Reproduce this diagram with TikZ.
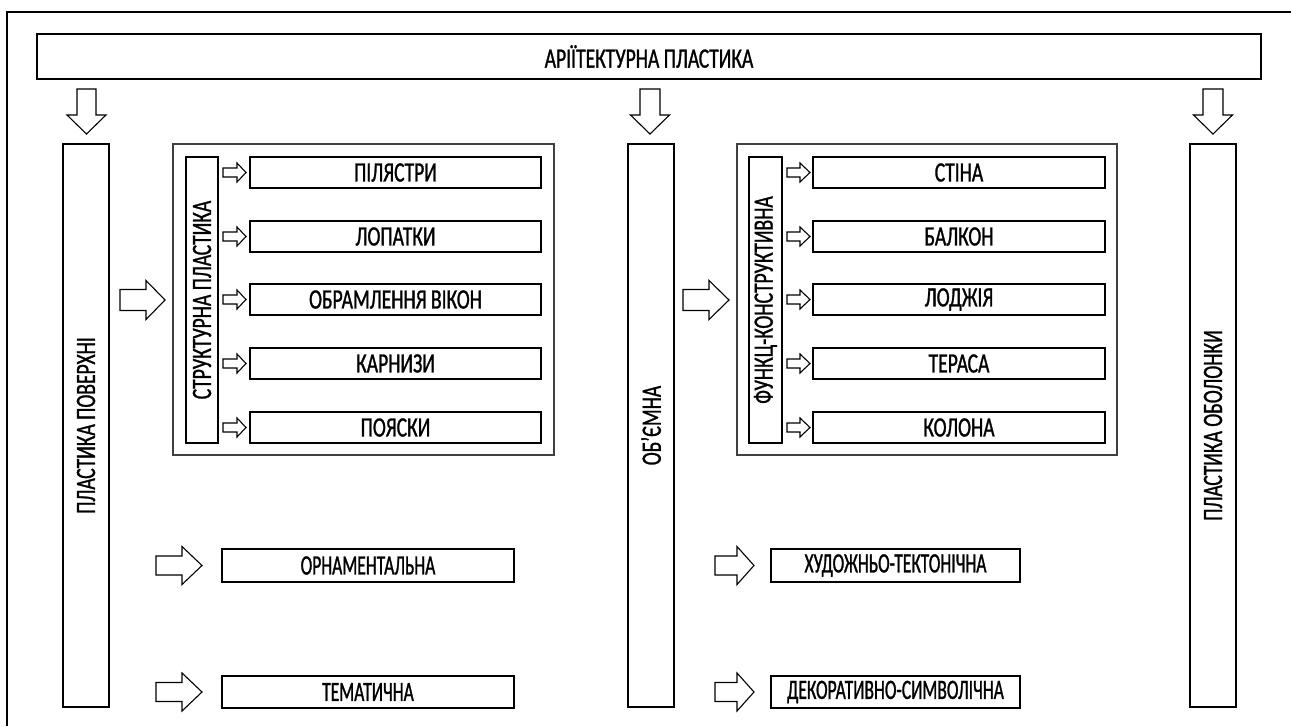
\documentclass[tikz,border=0pt]{standalone}
\usepackage{fontspec}
\setmainfont{Carlito}[FakeStretch=0.70,FakeBold=1]
\newfontfamily\narrowfont{Carlito}[FakeStretch=0.625,FakeBold=1]
\begin{document}
\begin{tikzpicture}[x=1pt,y=-1pt,
  every node/.style={inner sep=0pt, outer sep=0pt, font=\fontsize{28}{32}\selectfont},
  topbox/.style={draw, line width=2.8pt, fill=white},
  tallbox/.style={draw, line width=2.8pt, fill=white},
  itembox/.style={draw, line width=2pt, fill=white},
  lowbox/.style={itembox, font=\narrowfont\fontsize{28}{32}\selectfont},
  groupbox/.style={draw=black!75, line width=1.3pt},
  blockarr/.style={draw, line width=1.1pt, fill=white, line join=miter}]
\useasboundingbox (0,0) rectangle (1291,726);
\newcommand\rblock[6]{\draw[blockarr] (#1,{#4-#5}) -- (#2,{#4-#5}) -- (#2,{#4-#6}) -- (#3,#4) -- (#2,{#4+#6}) -- (#2,{#4+#5}) -- (#1,{#4+#5}) -- cycle;}
\newcommand\dblock[6]{\draw[blockarr] ({#4-#5},#1) -- ({#4-#5},#2) -- ({#4-#6},#2) -- (#4,#3) -- ({#4+#6},#2) -- ({#4+#5},#2) -- ({#4+#5},#1) -- cycle;}
% outer frame (cropped)
\draw[line width=2pt] (1291,12) -- (7,12) -- (7,726);
% title
\node[topbox, minimum width=1224pt, minimum height=45pt] (top) at (649,56.5) {АРІЇТЕКТУРНА ПЛАСТИКА};
% down arrows
\dblock{89}{115}{134}{86.5}{9.5}{19.5}
\dblock{89}{115}{134}{650}{10}{19.5}
\dblock{89}{115}{134}{1213}{10}{19.5}
% tall boxes
\node[tallbox, minimum width=46pt, minimum height=563pt] (pov) at (86,425.5) {};
\node[rotate=90] (povt) at (pov.center) {ПЛАСТИКА ПОВЕРХНІ};
\node[tallbox, minimum width=46pt, minimum height=563pt] (obj) at (651,425.5) {};
\node[rotate=90] (objt) at (obj.center) {ОБ'ЄМНА};
\node[tallbox, minimum width=46pt, minimum height=563pt] (obo) at (1213,425.5) {};
\node[rotate=90] (obot) at (obo.center) {ПЛАСТИКА ОБОЛОНКИ};
% left group
\node[groupbox, minimum width=381pt, minimum height=311pt] (lg) at (363.5,299.5) {};
\node[draw, line width=1.8pt, minimum width=32pt, minimum height=286pt] (lv) at (202,300) {};
\node[rotate=90] (lvt) at (lv.center) {СТРУКТУРНА ПЛАСТИКА};
\rblock{120}{146}{165}{300}{10.5}{19.5}
\foreach \y/\t/\n in {172.5/ПІЛЯСТРИ/a1, 236.5/ЛОПАТКИ/a2, 299.5/ОБРАМЛЕННЯ ВІКОН/a3, 363.5/КАРНИЗИ/a4, 427.5/ПОЯСКИ/a5}{
  \node[itembox, minimum width=291pt, minimum height=31pt] (\n) at (395.5,\y) {\t};
  \rblock{223}{237}{246}{\y}{4.5}{9.5}
}
% right group
\node[groupbox, minimum width=380pt, minimum height=311pt] (rg) at (927,299.5) {};
\node[draw, line width=1.8pt, minimum width=33pt, minimum height=286pt] (rv) at (765.5,300) {};
\node[rotate=90] (rvt) at (rv.center) {ФУНКЦ-КОНСТРУКТИВНА};
\rblock{683}{709}{729}{300}{10.5}{19.5}
\foreach \y/\t/\n in {172.5/СТІНА/b1, 236.5/БАЛКОН/b2, 299.5/ЛОДЖІЯ/b3, 363.5/ТЕРАСА/b4, 427.5/КОЛОНА/b5}{
  \node[itembox, minimum width=292pt, minimum height=31pt] (\n) at (959,\y) {\t};
  \rblock{787}{800}{810}{\y}{4.5}{9.5}
}
% bottom rows
\node[lowbox, minimum width=292pt, minimum height=33pt] (orn) at (368,565.5) {ОРНАМЕНТАЛЬНА};
\rblock{156}{182}{202}{565.5}{9.5}{19}
\node[lowbox, minimum width=292pt, minimum height=32pt] (tem) at (368,692) {ТЕМАТИЧНА};
\rblock{156}{182}{202}{692}{9.5}{19}
\node[lowbox, minimum width=249pt, minimum height=33pt] (hud) at (895.5,565.5) {ХУДОЖНЬО-ТЕКТОНІЧНА};
\rblock{715}{737}{754}{565.5}{9.5}{19}
\node[lowbox, minimum width=249pt, minimum height=32pt] (dek) at (895.5,692) {ДЕКОРАТИВНО-СИМВОЛІЧНА};
\rblock{715}{737}{754}{692}{9.5}{19}
\end{tikzpicture}
\end{document}
